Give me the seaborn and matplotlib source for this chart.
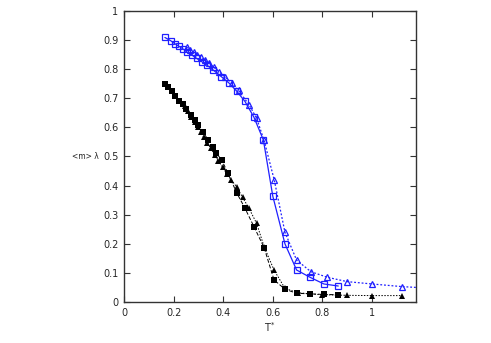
import numpy as np
import pandas as pd
import matplotlib
matplotlib.use("Agg")
import matplotlib.pyplot as plt
import seaborn as sns

# black squares
t_bsq = [0.165, 0.179, 0.192, 0.206, 0.222, 0.236, 0.252, 0.269, 0.286, 0.300,
         0.317, 0.340, 0.357, 0.373, 0.394, 0.418, 0.454, 0.488, 0.524, 0.565,
         0.605, 0.649, 0.696, 0.750, 0.806, 0.864]
m_bsq = [0.748, 0.738, 0.725, 0.709, 0.692, 0.679, 0.662, 0.643, 0.625, 0.608,
         0.585, 0.557, 0.534, 0.511, 0.488, 0.445, 0.376, 0.322, 0.259, 0.187,
         0.076, 0.044, 0.030, 0.028, 0.026, 0.025]

# black triangles
t_btr = [0.246, 0.260, 0.272, 0.285, 0.298, 0.310, 0.322, 0.336, 0.350, 0.366,
         0.380, 0.398, 0.414, 0.432, 0.454, 0.478, 0.504, 0.535, 0.565, 0.605,
         0.649, 0.700, 0.750, 0.800, 0.900, 1.000, 1.120]
m_btr = [0.674, 0.656, 0.637, 0.619, 0.601, 0.583, 0.566, 0.547, 0.528, 0.506,
         0.486, 0.463, 0.441, 0.420, 0.396, 0.360, 0.322, 0.270, 0.190, 0.110,
         0.047, 0.032, 0.028, 0.025, 0.023, 0.022, 0.022]

# blue open squares
t_usq = [0.165, 0.188, 0.206, 0.223, 0.239, 0.255, 0.273, 0.293, 0.313, 0.333,
         0.360, 0.393, 0.424, 0.454, 0.488, 0.524, 0.562, 0.600, 0.649, 0.696,
         0.750, 0.806, 0.864]
m_usq = [0.909, 0.898, 0.887, 0.878, 0.869, 0.858, 0.849, 0.837, 0.826, 0.815,
         0.797, 0.774, 0.752, 0.725, 0.689, 0.635, 0.557, 0.364, 0.200, 0.110,
         0.085, 0.062, 0.055]

# blue triangles
t_utr = [0.255, 0.268, 0.281, 0.295, 0.310, 0.326, 0.343, 0.362, 0.384, 0.408,
         0.434, 0.462, 0.505, 0.535, 0.565, 0.606, 0.649, 0.696, 0.754, 0.820,
         0.900, 1.000, 1.120, 1.18]
m_utr = [0.875, 0.867, 0.859, 0.850, 0.841, 0.831, 0.820, 0.807, 0.791, 0.773,
         0.752, 0.727, 0.677, 0.631, 0.555, 0.419, 0.240, 0.144, 0.104, 0.085,
         0.070, 0.062, 0.053, 0.050]

sns.set_style("white")
plt.rcParams['font.family'] = ['DejaVu Sans']

fig = plt.figure(figsize=(4.91, 3.43), dpi=100)
ax = fig.add_axes([0.2525, 0.1195, 0.5945, 0.8485])

blue = '#1f1fff'
sns.lineplot(x=t_bsq, y=m_bsq, ax=ax, sort=False, estimator=None, color='black',
             linestyle=(0, (4, 2)), linewidth=0.7, marker='s', markersize=3.8,
             markeredgewidth=0)
sns.lineplot(x=t_btr, y=m_btr, ax=ax, sort=False, estimator=None, color='black',
             linestyle=(0, (1.5, 1.5)), linewidth=0.7, marker='^', markersize=3.8,
             markeredgewidth=0)
sns.lineplot(x=t_usq, y=m_usq, ax=ax, sort=False, estimator=None, color=blue,
             linestyle='-', linewidth=0.9, marker='s', markersize=4.5,
             markerfacecolor='none', markeredgecolor=blue, markeredgewidth=0.9)
# last blue triangle point is only where the dotted line leaves the frame
sns.lineplot(x=t_utr, y=m_utr, ax=ax, sort=False, estimator=None, color=blue,
             linestyle=(0, (1.5, 1.5)), linewidth=0.9, marker='^', markersize=4,
             markevery=list(range(len(t_utr) - 1)), markerfacecolor='none',
             markeredgecolor=blue, markeredgewidth=0.9)

ax.set_xlim(0, 1.177)
ax.set_ylim(0, 1)
ax.set_xticks([0, 0.2, 0.4, 0.6, 0.8, 1])
ax.set_xticklabels(['0', '0.2', '0.4', '0.6', '0.8', '1'])
ax.set_yticks(np.arange(0, 1.01, 0.1))
ax.set_yticklabels(['0', '0.1', '0.2', '0.3', '0.4', '0.5', '0.6', '0.7', '0.8', '0.9', '1'])
ax.tick_params(direction='in', length=4, width=0.8, labelsize=7, color='#333333',
               top=True, right=True, bottom=True, left=True, pad=4)
for s in ax.spines.values():
    s.set_color('#333333')
    s.set_linewidth(1.0)

ax.set_xlabel('T$^{*}$', fontsize=7, labelpad=2)
ax.set_ylabel('')
fig.text(0.174, 0.5 * (0.1195 + 0.968), '<m> λ', fontsize=5.5, ha='center', va='center')
ax.grid(False)

fig.savefig('out.png', dpi=100)
